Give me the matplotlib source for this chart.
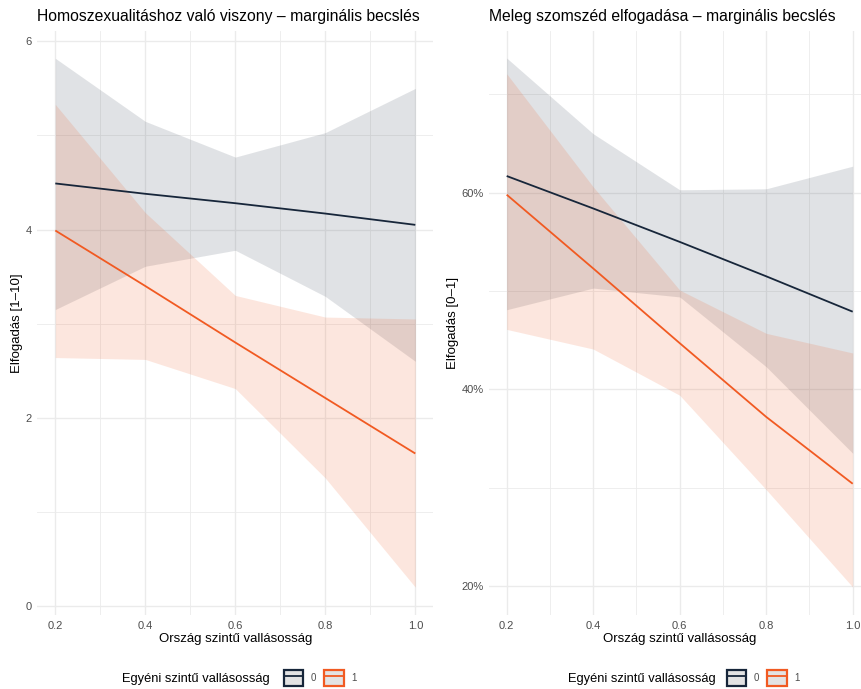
import matplotlib
matplotlib.use('Agg')
import matplotlib.pyplot as plt
from matplotlib.patches import Patch
from matplotlib.lines import Line2D
from matplotlib.ticker import MultipleLocator, PercentFormatter

plt.rcParams['font.family'] = ['Liberation Sans', 'DejaVu Sans']

# data
orszag = [0.2, 0.4, 0.6, 0.8, 1.0]

# bal panel: Homoszexualitáshoz való viszony (1-10)
homo_fit0 = [4.49, 4.38, 4.28, 4.17, 4.05]
homo_lo0 = [3.15, 3.61, 3.78, 3.29, 2.60]
homo_hi0 = [5.82, 5.15, 4.77, 5.03, 5.50]
homo_fit1 = [3.99, 3.40, 2.80, 2.21, 1.62]
homo_lo1 = [2.64, 2.62, 2.31, 1.36, 0.20]
homo_hi1 = [5.33, 4.18, 3.30, 3.07, 3.05]

# jobb panel: Meleg szomszéd elfogadása (0-1)
szom_fit0 = [0.617, 0.584, 0.550, 0.515, 0.479]
szom_lo0 = [0.481, 0.503, 0.494, 0.423, 0.335]
szom_hi0 = [0.737, 0.660, 0.603, 0.604, 0.627]
szom_fit1 = [0.598, 0.523, 0.447, 0.372, 0.304]
szom_lo1 = [0.461, 0.441, 0.394, 0.298, 0.199]
szom_hi1 = [0.721, 0.606, 0.501, 0.457, 0.437]

csoportok = ['0', '1']
szinek = ['#17263a', '#f15a22']

W, H = 862, 689
fig = plt.figure(figsize=(W / 100, H / 100), dpi=100)

ax1 = fig.add_axes([37.3 / W, (H - 615) / H, 396 / W, 584 / H])
ax2 = fig.add_axes([489.4 / W, (H - 615) / H, 380.6 / W, 584 / H])


def panel(ax, fits, los, his, title, ylabel):
    for fit, lo, hi, c in zip(fits, los, his, szinek):
        ax.fill_between(orszag, lo, hi, color=c, alpha=0.13 if c == szinek[0] else 0.15,
                        linewidth=0)
    for fit, c in zip(fits, szinek):
        ax.plot(orszag, fit, color=c, lw=1.3, solid_capstyle='butt')
    ax.set_xlim(0.16, 1.04)
    ax.xaxis.set_major_locator(MultipleLocator(0.2))
    ax.xaxis.set_minor_locator(MultipleLocator(0.1))
    ax.grid(which='major', color='#ebebeb', lw=1.0)
    ax.grid(which='minor', color='#ebebeb', lw=0.6)
    ax.set_axisbelow(True)
    for s in ax.spines.values():
        s.set_visible(False)
    ax.tick_params(which='both', length=0, labelsize=8, labelcolor='#4d4d4d', pad=4)
    ax.set_title(title, loc='left', fontsize=11.3, pad=7)
    ax.set_xlabel('Ország szintű vallásosság', fontsize=9.5, labelpad=2)
    ax.set_ylabel(ylabel, fontsize=9.5, labelpad=2)


panel(ax1, [homo_fit0, homo_fit1], [homo_lo0, homo_lo1], [homo_hi0, homo_hi1],
      'Homoszexualitáshoz való viszony – marginális becslés', 'Elfogadás [1–10]')
ax1.set_ylim(-0.096, 6.11)
ax1.yaxis.set_major_locator(MultipleLocator(2))
ax1.yaxis.set_minor_locator(MultipleLocator(1))
ax1.xaxis.set_major_formatter(lambda v, p: f'{v:.1f}')

panel(ax2, [szom_fit0, szom_fit1], [szom_lo0, szom_lo1], [szom_hi0, szom_hi1],
      'Meleg szomszéd elfogadása – marginális becslés', 'Elfogadás [0–1]')
ax2.set_ylim(0.1705, 0.7645)
ax2.yaxis.set_major_locator(MultipleLocator(0.2))
ax2.yaxis.set_minor_locator(MultipleLocator(0.1))
ax2.yaxis.set_major_formatter(PercentFormatter(1.0, decimals=0))
ax2.xaxis.set_major_formatter(lambda v, p: f'{v:.1f}')

# legends below each panel
handles = [(Patch(facecolor='#e3e3e3', edgecolor=c, linewidth=1.6),
            Line2D([], [], color=c, lw=1.3)) for c in szinek]
for tx, lx in [(270, 279), (716, 722)]:
    fig.text(tx / W, 1 - 679 / H, 'Egyéni szintű vallásosság', ha='right', va='center',
             fontsize=9.3)
    fig.legend(handles, csoportok, loc='center left', bbox_to_anchor=(lx / W, 1 - 678 / H),
               ncol=2, frameon=False, fontsize=7, borderpad=0, handlelength=2.0,
               handleheight=2.1, handletextpad=0.8, columnspacing=0.8,
               labelcolor='#4d4d4d')

fig.savefig('out.png', dpi=100)
